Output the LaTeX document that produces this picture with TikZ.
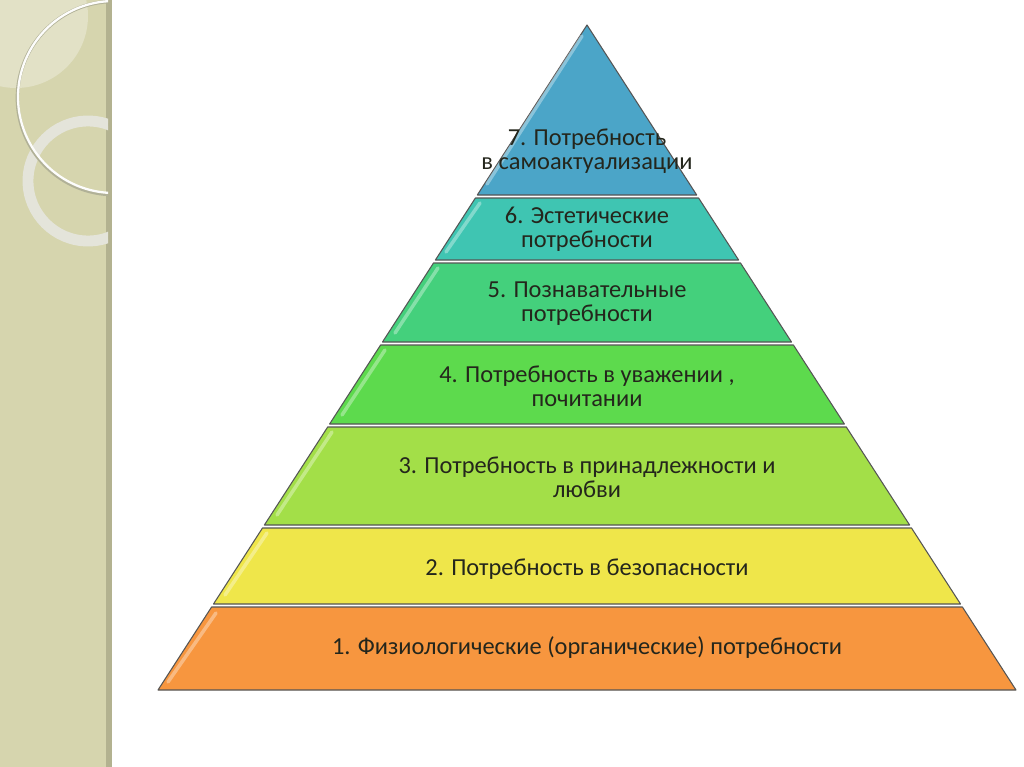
\documentclass[tikz,border=0pt]{standalone}
\usepackage{fontspec}
\setmainfont{Carlito}
\definecolor{strip}{HTML}{D6D5AE}
\definecolor{stripedge}{HTML}{B3B290}
\definecolor{lens}{HTML}{E2E1C6}
\definecolor{ringc}{HTML}{E4E4DA}
\definecolor{ringedge}{HTML}{A9A88C}
\definecolor{cseven}{HTML}{4BA5C8}
\definecolor{csix}{HTML}{3FC5B2}
\definecolor{cfive}{HTML}{44D07C}
\definecolor{cfour}{HTML}{5DDA4D}
\definecolor{cthree}{HTML}{A3DF48}
\definecolor{ctwo}{HTML}{EFE64A}
\definecolor{cone}{HTML}{F7963F}
\definecolor{txt}{HTML}{24261C}
\definecolor{outl}{HTML}{555555}
\tikzset{
  layer/.style={draw=outl, line width=0.6pt, line join=round},
  bevel/.style={draw=white, draw opacity=0.35, line width=2pt, line cap=round},
  lbl/.style={text=txt, align=center, font=\fontsize{13.9}{13.8}\selectfont, inner sep=0pt},
}
\begin{document}
\begin{tikzpicture}[x=0.02cm,y=-0.02cm]
\useasboundingbox (0,0) rectangle (1024,767);
\fill[white] (0,0) rectangle (1024,767);
% left decorative strip
\fill[strip] (0,0) rectangle (108,767);
\fill[stripedge] (106,0) rectangle (112,767);
\begin{scope}
  \clip (0,0) rectangle (108,767);
  \fill[lens] (16,16) circle[radius=72];
  \draw[ringedge, line width=1.4pt] (88,181) circle[radius=60];
  \draw[ringc, line width=6.2pt] (88,181) circle[radius=60];
  \draw[ringedge!90, line width=2pt] (114,98) circle[radius=96.6];
  \draw[white!96!strip, line width=1.3pt] (114,97) circle[radius=96];
\end{scope}
% pyramid layers
\draw[layer, fill=cseven] (587,25) -- (696.7,195) -- (477.3,195) -- cycle;
\draw[layer, fill=csix] (475.4,198) -- (698.6,198) -- (738.6,260) -- (435.4,260) -- cycle;
\draw[layer, fill=cfive] (433.5,263) -- (740.5,263) -- (791.5,342) -- (382.5,342) -- cycle;
\draw[layer, fill=cfour] (380.6,345) -- (793.4,345) -- (844.4,424) -- (329.6,424) -- cycle;
\draw[layer, fill=cthree] (327.7,427) -- (846.3,427) -- (909.6,525) -- (264.4,525) -- cycle;
\draw[layer, fill=ctwo] (262.5,528) -- (911.5,528) -- (960.5,604) -- (213.5,604) -- cycle;
\draw[layer, fill=cone] (211.6,607) -- (962.4,607) -- (1016,690) -- (158,690) -- cycle;
% bevel highlights
\draw[bevel] (582,36) -- (487,184);
\draw[bevel] (480,203) -- (446,252);
\draw[bevel] (438,268) -- (395,333);
\draw[bevel] (385,350) -- (342,415);
\draw[bevel] (332,432) -- (277,515);
\draw[bevel] (267,533) -- (225,595);
\draw[bevel] (216,613) -- (168,682);
% labels
\node[lbl] (t7) at (587,151) {7. Потребность\\в самоактуализации};
\node[lbl] (t6) at (587,229) {6. Эстетические\\потребности};
\node[lbl] (t5) at (587,304) {5. Познавательные\\потребности};
\node[lbl] (t4) at (587,386) {4. Потребность в уважении ,\\почитании};
\node[lbl] (t3) at (587,477) {3. Потребность в принадлежности и\\любви};
\node[lbl] (t2) at (587,569) {2. Потребность в безопасности};
\node[lbl] (t1) at (587,648) {1. Физиологические (органические) потребности};
\end{tikzpicture}
\end{document}
